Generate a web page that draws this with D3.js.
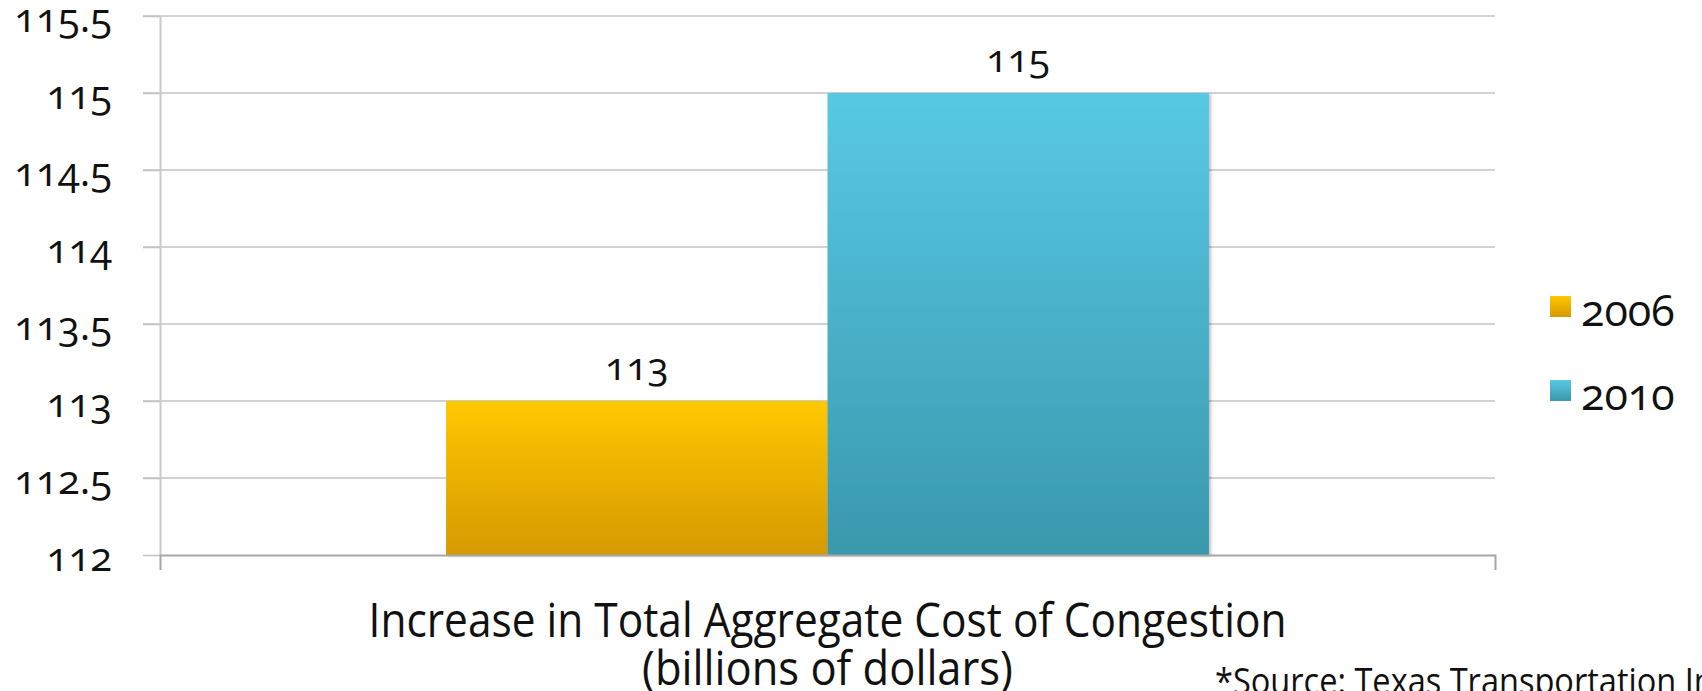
<!DOCTYPE html>
<html>
<head>
<meta charset="utf-8">
<script src="https://cdn.jsdelivr.net/npm/d3@7"></script>
<style>
  body { margin: 0; background: #fff; }
  svg text { font-family: "Open Sans", sans-serif; fill: #111; }
  .num { font-variant-numeric: oldstyle-nums; font-feature-settings: "onum" 1; }
</style>
</head>
<body>
<script>
// data
const categories = ['Increase in Total Aggregate Cost of Congestion'];
const categoryLines = ['Increase in Total Aggregate Cost of Congestion', '(billions of dollars)'];
const years = ['2006', '2010'];
const values = [113, 115];
const yTicks = [112, 112.5, 113, 113.5, 114, 114.5, 115, 115.5];
const sourceText = '*Source: Texas Transportation Institute';

const W = 1702, H = 691;
const margin = { top: 16, right: 207, bottom: 136, left: 160 };
const width = W - margin.left - margin.right;
const height = H - margin.top - margin.bottom;

const svg = d3.select('body').append('svg')
    .attr('width', W)
    .attr('height', H);

// gradients
const defs = svg.append('defs');
const grads = [
    { id: 'g2006', top: '#ffc800', bottom: '#d69900' },
    { id: 'g2010', top: '#58c9e4', bottom: '#3a98ad' }
];
grads.forEach(gr => {
    const lg = defs.append('linearGradient').attr('id', gr.id)
        .attr('x1', 0).attr('y1', 0).attr('x2', 0).attr('y2', 1);
    lg.append('stop').attr('offset', '0%').attr('stop-color', gr.top);
    lg.append('stop').attr('offset', '100%').attr('stop-color', gr.bottom);
});
const f = defs.append('filter').attr('id', 'shadow')
    .attr('x', '-5%').attr('y', '-5%').attr('width', '110%').attr('height', '110%');
f.append('feDropShadow').attr('dx', 2).attr('dy', 1).attr('stdDeviation', 1.5)
    .attr('flood-color', '#000').attr('flood-opacity', 0.25);

const color = d3.scaleOrdinal().domain(years).range(['url(#g2006)', 'url(#g2010)']);

const g = svg.append('g')
    .attr('transform', `translate(${margin.left}, ${margin.top})`);

const yScale = d3.scaleLinear()
    .domain([112, 115.5])
    .range([height, 0]);

const x0 = d3.scaleBand()
    .domain(categories)
    .range([0, width])
    .paddingInner(0)
    .paddingOuter(0.375);

const x1 = d3.scaleBand()
    .domain(years)
    .range([0, x0.bandwidth()])
    .padding(0);

// gridlines
g.append('g').attr('class', 'grid')
    .selectAll('line')
    .data(yTicks.filter(d => d !== 112))
    .join('line')
    .attr('x1', -17)
    .attr('x2', width)
    .attr('y1', d => yScale(d))
    .attr('y2', d => yScale(d))
    .attr('stroke', '#c3c3c3')
    .attr('stroke-width', 1.5);

// y axis
const yAxis = d3.axisLeft(yScale)
    .tickValues(yTicks)
    .tickFormat(d => String(d))
    .tickSize(17)
    .tickSizeOuter(0)
    .tickPadding(31);
const gy = g.append('g').attr('class', 'y axis').call(yAxis);
gy.select('.domain').attr('stroke', '#cacaca').attr('stroke-width', 2);
gy.selectAll('.tick line').attr('stroke', '#c3c3c3').attr('stroke-width', 1.5);
gy.selectAll('.tick text')
    .attr('class', 'num')
    .attr('font-size', 40)
    .attr('dy', 15)
    .style('font-family', '"Open Sans", sans-serif');

// bars
const bars = g.append('g')
    .selectAll('g')
    .data(categories)
    .join('g')
    .attr('transform', d => `translate(${x0(d)}, 0)`);

bars.selectAll('rect')
    .data(years.map((y, i) => ({ year: y, value: values[i] })))
    .join('rect')
    .attr('x', d => x1(d.year))
    .attr('y', d => yScale(d.value))
    .attr('width', x1.bandwidth())
    .attr('height', d => height - yScale(d.value))
    .attr('fill', d => color(d.year))
    .attr('filter', 'url(#shadow)');

bars.selectAll('text.lbl')
    .data(years.map((y, i) => ({ year: y, value: values[i] })))
    .join('text')
    .attr('class', 'lbl num')
    .attr('x', d => x1(d.year) + x1.bandwidth() / 2)
    .attr('y', d => yScale(d.value) - 21)
    .attr('text-anchor', 'middle')
    .attr('font-size', 39)
    .text(d => d.value);

// x axis
const xAxis = d3.axisBottom(x0)
    .tickSizeInner(0)
    .tickSizeOuter(15)
    .tickFormat('');
const gx = g.append('g').attr('class', 'x axis')
    .attr('transform', `translate(0, ${height})`)
    .call(xAxis);
gx.select('.domain').attr('stroke', '#a6a6a6').attr('stroke-width', 2);

// category label (two lines, condensed)
const catLabel = gx.append('g')
    .attr('transform', `translate(${x0(categories[0]) + x0.bandwidth() / 2}, 0)`);
const lineTargets = [{ y: 82, w: 918 }, { y: 130, w: 371 }];
categoryLines.forEach((t, i) => {
    const txt = catLabel.append('text')
        .attr('y', lineTargets[i].y)
        .attr('text-anchor', 'middle')
        .attr('font-size', 48)
        .attr('fill', '#111')
        .text(t);
    const len = txt.node().getComputedTextLength();
    txt.attr('transform', `scale(${lineTargets[i].w / len}, 1)`);
});

// source note, condensed so that "*Source: Texas Transportation " is ~470px wide
const src = svg.append('text')
    .attr('font-size', 37)
    .attr('y', 694)
    .text(sourceText);
const prefixLen = src.node().getSubStringLength(0, 30);
src.attr('transform', `translate(1215, 0) scale(${470 / prefixLen}, 1)`);

// legend
const legend = svg.append('g')
    .attr('transform', 'translate(1550, 296)');
const li = legend.selectAll('g')
    .data(years)
    .join('g')
    .attr('transform', (d, i) => `translate(0, ${i * 84})`);
li.append('rect')
    .attr('width', 21)
    .attr('height', 21)
    .attr('fill', d => color(d));
li.append('text')
    .attr('class', 'num')
    .attr('x', 31)
    .attr('y', 30)
    .attr('font-size', 43)
    .text(d => d);
</script>
</body>
</html>
